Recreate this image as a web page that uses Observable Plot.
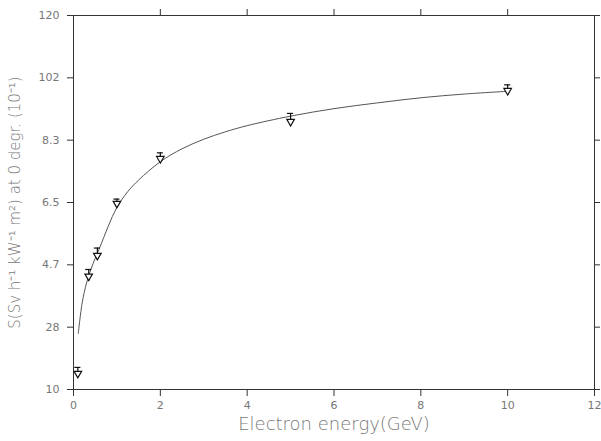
<!DOCTYPE html>
<html><head>
<meta charset="utf-8">
<script src="https://cdn.jsdelivr.net/npm/d3@7"></script>
<script src="https://cdn.jsdelivr.net/npm/@observablehq/plot@0.6"></script>
<style>body{margin:0;background:#fff;} #chart svg{display:block;}</style>
</head><body><div id="chart"></div>
<script>
// Measured points (electron energy GeV, dose value)
const energy = [0.1, 0.35, 0.55, 1, 2, 5, 10];
const dose = [14.7, 43.3, 49.4, 64.7, 77.9, 88.8, 97.9];
const errUp = [16.5, 45.3, 51.6, 66.0, 79.6, 91.2, 99.6];
const errDown = [13.5, 41.8, 48.0, 63.6, 76.8, 87.6, 96.6];
// Fitted curve
const curveEnergy = [0.11, 0.2, 0.3, 0.4, 0.5, 0.6, 0.8, 1.0, 1.25, 1.5, 2, 2.5, 3, 3.5, 4, 5, 6, 7, 8, 9, 10];
const curveDose = [26.5, 35.5, 41.3, 45.3, 48.6, 51.6, 58.0, 63.6, 68.2, 71.6, 77.0, 80.8, 83.6, 85.8, 87.6, 90.4, 92.6, 94.3, 95.8, 96.9, 97.7];
// Axes
const xTicks = [0, 2, 4, 6, 8, 10, 12];
const xInnerTicks = [2, 4, 6, 8, 10];
const yTickValues = [10, 28.333, 46.667, 65, 83.333, 101.667, 120];
const yTickLabels = ["10", "28", "4.7", "6.5", "8.3", "102", "120"];
const xLabel = "Electron energy(GeV)";
const yLabel = "S(Sv h⁻¹ kW⁻¹ m²) at 0 degr. (10⁻¹)";

const points = energy.map((e, i) => ({e, d: dose[i], lo: errDown[i], hi: errUp[i]}));
const curve = curveEnergy.map((e, i) => ({e, d: curveDose[i]}));
const capHalf = 0.07;

const ink = "#333";
const textInk = "#777";
const chart = Plot.plot({
  width: 601,
  height: 441,
  marginLeft: 73,
  marginRight: 7,
  marginTop: 15,
  marginBottom: 52,
  style: {fontFamily: "DejaVu Sans, sans-serif", background: "#fff"},
  x: {type: "linear", domain: [0, 12]},
  y: {type: "linear", domain: [10, 120]},
  marks: [
    Plot.frame({stroke: ink, strokeWidth: 1}),
    Plot.axisX({anchor: "bottom", ticks: xTicks, tickSize: 7, tickPadding: 5, fontSize: 11, color: textInk, stroke: ink, tickFormat: d => String(d), label: null}),
    Plot.axisX({anchor: "top", ticks: xInnerTicks, tickSize: 7, tickFormat: () => "", label: null, stroke: ink}),
    Plot.axisY({anchor: "left", ticks: yTickValues, tickSize: 6, tickPadding: 8, fontSize: 11, color: textInk, stroke: ink, tickFormat: d => yTickLabels[yTickValues.indexOf(d)], label: null}),
    Plot.axisY({anchor: "right", ticks: yTickValues, tickSize: 5, tickFormat: () => "", label: null, stroke: ink}),
    Plot.line(curve, {x: "e", y: "d", curve: "catmull-rom", stroke: "#555", strokeWidth: 1}),
    Plot.ruleX(points, {x: "e", y1: "lo", y2: "hi", stroke: "#111", strokeWidth: 1.2}),
    Plot.ruleY(points, {y: "hi", x1: d => d.e - capHalf, x2: d => d.e + capHalf, stroke: "#111", strokeWidth: 1.2}),
    Plot.dot(points, {x: "e", y: "d", symbol: "triangle", rotate: 180, r: 2.8, stroke: "#111", fill: "white", strokeWidth: 1.2}),
    Plot.text([xLabel], {frameAnchor: "bottom", dy: 40, fontSize: 18, fill: textInk, fontWeight: 300}),
    Plot.text([yLabel], {frameAnchor: "left", dx: -58, rotate: -90, fontSize: 15, fill: textInk, fontWeight: 300, textAnchor: "middle"})
  ]
});
document.getElementById("chart").appendChild(chart);
</script>
</body></html>
